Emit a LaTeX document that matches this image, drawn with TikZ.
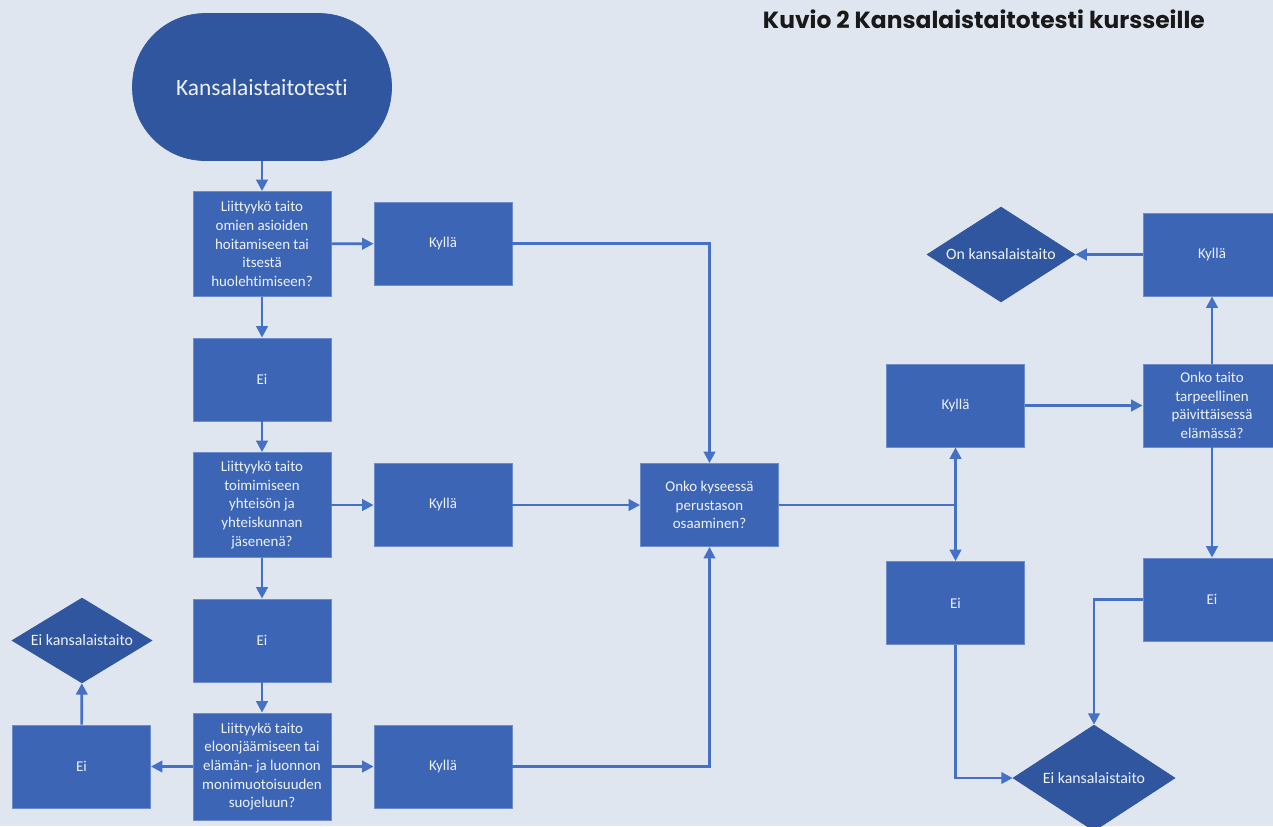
\documentclass[tikz,border=0pt]{standalone}
\usepackage{fontspec}
\setmainfont{Carlito}[RawFeature={-liga;-clig}]
\newfontfamily\titlefont{Poppins}
\usetikzlibrary{arrows.meta,shapes.geometric}

\definecolor{bgblue}{HTML}{DFE6F0}
\definecolor{boxblue}{HTML}{3C65B6}
\definecolor{edgeblue}{HTML}{6C8CCC}
\definecolor{darkblue}{HTML}{2F569F}
\definecolor{lineblue}{HTML}{4470C6}
\definecolor{txtwhite}{HTML}{EDF2FA}

\begin{document}
\begin{tikzpicture}[x=0.02cm, y=-0.02cm, >={Triangle[width=6.5pt,length=6.5pt]},
    every node/.style={text=txtwhite, align=center, font=\fontsize{8.5}{10.6}\selectfont},
    box/.style={rectangle, fill=boxblue, draw=edgeblue, line width=0.5pt,
        minimum width=2.76cm, minimum height=1.66cm, inner sep=2pt},
    qbox/.style={box, minimum height=2.1cm},
    decision/.style={diamond, fill=darkblue, draw=darkblue, shape aspect=1.7, inner sep=1pt,
        font=\fontsize{9}{11}\selectfont},
    link/.style={->, draw=lineblue, line width=1.5pt}]
                \fill[bgblue] (0,0) rectangle (1273,826);
                \useasboundingbox (0,0) rectangle (1273,826);
                \clip (0,0) rectangle (1273,826);

                % Nodes
                \node[text=black!90, anchor=east, font=\titlefont\bfseries\fontsize{13.3}{15}\selectfont] at (1211,19) (title) {Kuvio 2 Kansalaistaitotesti kursseille};
                \node[fill=darkblue, draw=darkblue, rounded corners=1.45cm, minimum width=5.18cm, minimum height=2.94cm, font=\fontsize{13.3}{16}\selectfont] at (262,87) (start) {Kansalaistaitotesti};

                \node[qbox] at (262,244) (q1) {Liittyykö taito\\omien asioiden\\hoitamiseen tai\\itsestä\\huolehtimiseen?};
                \node[box] at (443,243.5) (ky1) {Kyllä};
                \node[box] at (262,379.5) (ei1) {Ei};

                \node[qbox] at (262,505) (q2) {Liittyykö taito\\toimimiseen\\yhteisön ja\\yhteiskunnan\\jäsenenä?};
                \node[box] at (443,505) (ky2) {Kyllä};
                \node[box] at (262,640.5) (ei2) {Ei};

                \node[qbox, minimum height=2.14cm] at (262,766.5) (q3) {Liittyykö taito\\eloonjäämiseen tai\\elämän- ja luonnon\\monimuotoisuuden\\suojeluun?};
                \node[box] at (443,766.5) (ky3) {Kyllä};
                \node[box] at (81.5,766.5) (ei3) {Ei};
                \node[decision, minimum width=2.8cm, minimum height=1.7cm] at (82,640.5) (nk1) {Ei kansalaistaito};

                \node[box] at (709.5,505) (q0) {Onko kyseessä\\perustason\\osaaminen?};

                \node[box] at (955.5,405.5) (ky4) {Kyllä};
                \node[box] at (955.5,603) (ei4) {Ei};
                \node[box] at (1212,405.5) (q4) {Onko taito\\tarpeellinen\\päivittäisessä\\elämässä?};
                \node[box] at (1212,254.5) (ky5) {Kyllä};
                \node[box] at (1212,599.5) (ei5) {Ei};
                \node[decision, minimum width=2.96cm, minimum height=1.9cm] at (1001,254.5) (on) {On kansalaistaito};
                \node[decision, minimum width=3.24cm, minimum height=2.12cm] at (1094,778) (nk2) {Ei kansalaistaito};

                % Edges
                \draw[link] (start) -- (q1);
                \draw[link] (q1) -- (ky1);
                \draw[link] (q1) -- (ei1);
                \draw[link] (ei1) -- (q2);
                \draw[link] (q2) -- (ky2);
                \draw[link] (q2) -- (ei2);
                \draw[link] (ei2) -- (q3);
                \draw[link] (q3) -- (ky3);
                \draw[link] (q3) -- (ei3);
                \draw[link] (ei3) -- (nk1);

                \draw[link] (ky1.east) -| (q0.north);
                \draw[link] (ky2) -- (q0);
                \draw[link] (ky3.east) -| (q0.south);

                \coordinate (split) at (q0.east -| ky4.south);
                \draw[link, -] (q0.east) -- (split);
                \draw[link] (split) -- (ky4.south);
                \draw[link] (split) -- (ei4.north);

                \draw[link] (ky4) -- (q4);
                \draw[link] (q4) -- (ky5);
                \draw[link] (ky5) -- (on);
                \draw[link] (q4) -- (ei5);
                \draw[link] (ei5.west) -| (nk2.north);
                \draw[link] (ei4.south) |- (nk2.west);
            \end{tikzpicture}
\end{document}
